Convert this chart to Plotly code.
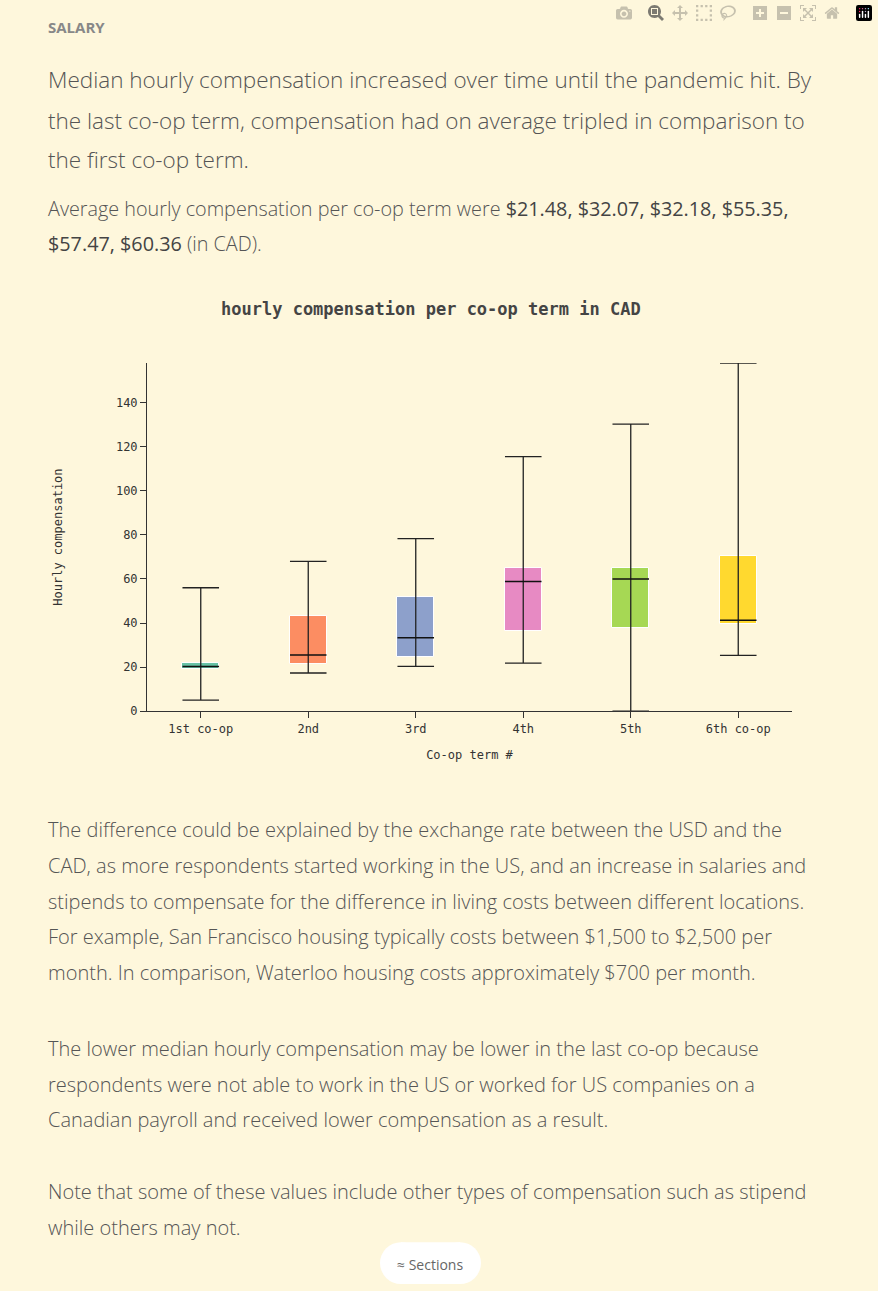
import plotly.graph_objects as go

terms = ["1st co-op", "2nd", "3rd", "4th", "5th", "6th co-op"]
mins = [5, 17.3, 20.3, 21.8, 0, 25.3]
q1s = [19, 21.5, 24.5, 36.5, 37.5, 39.5]
meds = [20.3, 25.5, 33.3, 58.8, 60, 41.3]
q3s = [22, 43, 52, 65, 65, 70.5]
maxs = [56, 68, 78.3, 115.5, 130.3, 158]
colors = ["#66c2a5", "#fc8d62", "#8da0cb", "#e78ac3", "#a6d854", "#ffd92f"]

W, H = 878, 1291
BG = "#fef7dc"
xs = list(range(len(terms)))
hw = 0.17

fig = go.Figure()
wx, wy = [], []
for i in xs:
    wx += [i, i, None, i - hw, i + hw, None, i - hw, i + hw, None]
    wy += [mins[i], maxs[i], None, mins[i], mins[i], None, maxs[i], maxs[i], None]
fig.add_trace(go.Scatter(x=wx, y=wy, mode="lines", line=dict(color="#222", width=1.3),
                         hoverinfo="skip", showlegend=False))
fig.add_trace(go.Bar(x=xs, y=[q3s[i] - q1s[i] for i in xs], base=q1s, width=2 * hw,
                     marker=dict(color=colors, line=dict(color="white", width=1)),
                     showlegend=False))
mx, my = [], []
for i in xs:
    mx += [i - hw, i + hw, None]
    my += [meds[i], meds[i], None]
fig.add_trace(go.Scatter(x=mx, y=my, mode="lines", line=dict(color="#111", width=1.5),
                         hoverinfo="skip", showlegend=False))

mono = "DejaVu Sans Mono"
fig.update_layout(
    width=W, height=H, margin=dict(l=0, r=0, t=0, b=0),
    paper_bgcolor=BG, plot_bgcolor=BG, bargap=0,
    xaxis=dict(domain=[147 / W, 792 / W], range=[-0.5, 5.5], tickvals=xs, ticktext=terms,
               showgrid=False, zeroline=False, showline=True, linecolor="#333", linewidth=1,
               ticks="outside", ticklen=6, tickcolor="#333",
               tickfont=dict(family=mono, size=12, color="#333"),
               title=dict(text="Co-op term #", font=dict(family=mono, size=12, color="#333"), standoff=16)),
    yaxis=dict(domain=[1 - 715 / H, 1 - 365 / H], range=[0, 158], tickvals=[0, 20, 40, 60, 80, 100, 120, 140],
               showgrid=False, zeroline=False, showline=True, linecolor="#333", linewidth=1,
               ticks="outside", ticklen=6, tickcolor="#333",
               tickfont=dict(family=mono, size=12, color="#333"),
               title=dict(text="Hourly compensation", font=dict(family=mono, size=12, color="#333"), standoff=50)),
)

def txt(text, x, y, size, color="#555", weight=300, family="Open Sans", anchor="left"):
    fig.add_annotation(text=text, x=x / W, y=1 - y / H, xref="paper", yref="paper",
                       xanchor=anchor, yanchor="middle", showarrow=False, align="left",
                       font=dict(family=family, size=size, color=color, weight=weight))

txt("SALARY", 46, 27, 15, color="#888", weight=700)
txt("Median hourly compensation increased over time until the pandemic hit. By", 46, 80, 22.5)
txt("the last co-op term, compensation had on average tripled in comparison to", 46, 121, 22.5)
txt("the first co-op term.", 46, 160, 22.5)
B = '<span style="font-weight:400;color:#444">%s</span>'
txt("Average hourly compensation per co-op term were " + B % "$21.48, $32.07, $32.18, $55.35,", 46, 210, 19.8)
txt(B % "$57.47, $60.36" + " (in CAD).", 46, 245, 19.8)
txt("hourly compensation per co-op term in CAD", 431, 311, 17, color="#444", weight=700,
    family=mono, anchor="center")

paras = [
    ("The difference could be explained by the exchange rate between the USD and the", 834),
    ("CAD, as more respondents started working in the US, and an increase in salaries and", 870),
    ("stipends to compensate for the difference in living costs between different locations.", 906),
    ("For example, San Francisco housing typically costs between $1,500 to $2,500 per", 942),
    ("month. In comparison, Waterloo housing costs approximately $700 per month.", 978),
    ("The lower median hourly compensation may be lower in the last co-op because", 1054),
    ("respondents were not able to work in the US or worked for US companies on a", 1090),
    ("Canadian payroll and received lower compensation as a result.", 1126),
    ("Note that some of these values include other types of compensation such as stipend", 1198),
    ("while others may not.", 1234),
]
for t, y in paras:
    txt(t, 46, y, 20)

def pr(x0, y0, x1, y1, kind):
    fig.add_shape(type=kind, xref="paper", yref="paper", x0=x0 / W, x1=x1 / W,
                  y0=1 - y1 / H, y1=1 - y0 / H, fillcolor="white", line=dict(width=0), layer="below")
pr(380, 1249, 422, 1291, "circle")
pr(439, 1249, 481, 1291, "circle")
pr(401, 1249, 460, 1291, "rect")
txt("≈ Sections", 430, 1271, 14, color="#666", weight=400, anchor="center")

fig.write_html("out.html", post_script="document.body.style.margin='0';")
